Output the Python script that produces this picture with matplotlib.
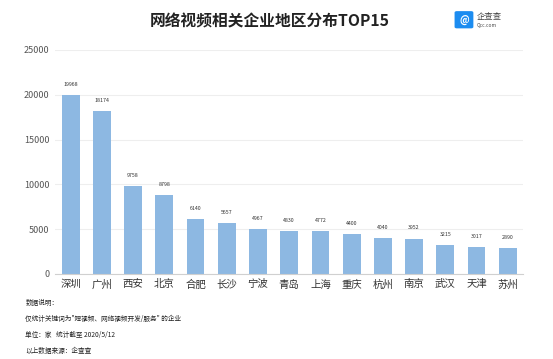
import matplotlib.pyplot as plt
from matplotlib.patches import FancyBboxPatch

plt.rcParams['font.family'] = ['Noto Sans CJK SC', 'DejaVu Sans']

cities = ['深圳', '广州', '西安', '北京', '合肥', '长沙', '宁波', '青岛',
          '上海', '重庆', '杭州', '南京', '武汉', '天津', '苏州']
counts = [19968, 18174, 9758, 8798, 6140, 5657, 4967, 4830,
          4772, 4400, 4040, 3952, 3215, 3017, 2890]
yticks = [0, 5000, 10000, 15000, 20000, 25000]
notes = ['数据说明：',
         '仅统计关键词为"短视频、网络视频开发/服务" 的企业',
         '单位：家   统计截至 2020/5/12',
         '以上数据来源：企查查']

fig = plt.figure(figsize=(5.53, 3.59), dpi=100)
ax = fig.add_axes([0.0995, 0.237, 0.847, 0.624])

x = range(len(cities))
ax.bar(x, counts, width=0.57, color='#8db8e2')
for i, v in enumerate(counts):
    ax.text(i, v + 900, str(v), ha='center', va='bottom', fontsize=3.8, color='#333333')

ax.set_ylim(0, 25000)
ax.set_xlim(-0.5, len(cities) - 0.5)
ax.set_yticks(yticks)
ax.set_yticklabels([str(t) for t in yticks], fontsize=6.5, color='#555555')
ax.set_xticks(list(x))
ax.set_xticklabels(cities, fontsize=7.5, color='#333333')
ax.tick_params(length=0, pad=4)
ax.yaxis.grid(True, color='#eeeeee', linewidth=0.8)
ax.set_axisbelow(True)
for s in ['top', 'right', 'left']:
    ax.spines[s].set_visible(False)
ax.spines['bottom'].set_color('#d0d0d0')

fig.text(0.488, 0.94, '网络视频相关企业地区分布TOP15', ha='center', va='center',
         fontsize=11.3, fontweight='bold', color='#222222')

# logo
logo = FancyBboxPatch((0.826, 0.925), 0.026, 0.04, boxstyle='round,pad=0.004',
                      transform=fig.transFigure, facecolor='#1c8cf0', edgecolor='none')
fig.patches.append(logo)
fig.text(0.839, 0.945, '@', ha='center', va='center', fontsize=7, color='white', fontweight='bold')
fig.text(0.862, 0.955, '企查查', ha='left', va='center', fontsize=6, color='#444444')
fig.text(0.862, 0.93, 'Qcc.com', ha='left', va='center', fontsize=3.5, color='#444444')

for i, t in enumerate(notes):
    fig.text(0.046, 0.155 - i * 0.044, t, ha='left', va='center', fontsize=4.8,
             color='#222222')

fig.savefig('out.png', dpi=100)
